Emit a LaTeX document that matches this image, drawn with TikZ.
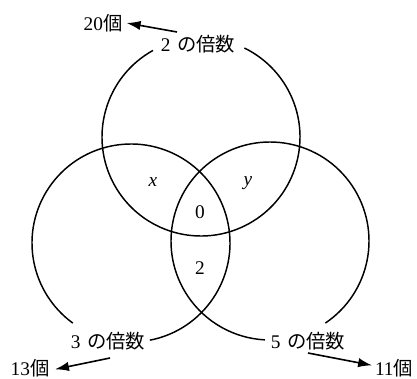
\documentclass[tikz,border=0pt]{standalone}
\usepackage{fontspec}
\setmainfont{Liberation Serif}
\newfontfamily\jpfont{Noto Sans CJK JP}
\usetikzlibrary{arrows.meta}
\newcommand{\bai}{\hspace{0.35em}{\jpfont の倍数}}
\begin{document}
\begin{tikzpicture}[x=0.75pt,y=0.75pt,
  ring/.style={line width=1.1pt},
  arr/.style={line width=1.2pt,-{Latex[length=10.5pt,width=7pt]}},
  lab/.style={font=\fontsize{14.5}{16}\selectfont,inner sep=0pt},
  val/.style={font=\fontsize{14.5}{16}\selectfont,inner sep=0pt}]
\useasboundingbox (0,0) rectangle (417,-378);
% circles (arcs with gaps for labels)
\draw[ring] (201,-137) ++(119:99) arc[start angle=119,end angle=424,radius=99];
\draw[ring] (131,-243) ++(-79:99) arc[start angle=-79,end angle=234,radius=99];
\draw[ring] (270,-241) ++(-56:99) arc[start angle=-56,end angle=267,radius=99];
% labels
\node[lab] (l2) at (198,-44) {2\bai};
\node[lab] (l3) at (108,-341) {3\bai};
\node[lab] (l5) at (308,-341) {5\bai};
\node[lab] (n20) at (103,-23) {20{\jpfont 個}};
\node[lab] (n13) at (30,-368) {13{\jpfont 個}};
\node[lab] (n11) at (394,-368) {11{\jpfont 個}};
\node[val] (vx) at (153,-182) {\textit{x}};
\node[val] (vy) at (248,-183) {\textit{y}};
\node[val] (v0) at (200,-212) {0};
\node[val] (v2) at (200,-268) {2};
% arrows
\coordinate (a2) at (177,-32);
\coordinate (a3) at (110,-358);
\coordinate (a5) at (308,-353);
\draw[arr] (a2) -- ([xshift=3pt]n20.east);
\draw[arr] (a3) -- ([xshift=4pt,yshift=-1pt]n13.east);
\draw[arr] (a5) -- ([xshift=-2pt,yshift=2pt]n11.west);
\end{tikzpicture}
\end{document}
